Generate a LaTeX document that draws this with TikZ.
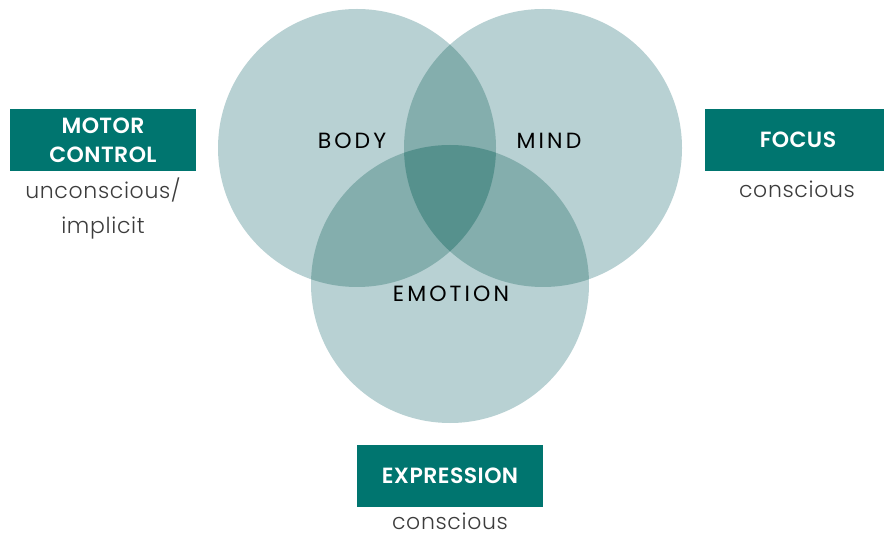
\documentclass[tikz,border=0pt]{standalone}
\usepackage{fontspec}
\setmainfont{Poppins}
\newfontfamily\spacedfont[LetterSpace=14]{Poppins}
\newfontfamily\lightfont[LetterSpace=3]{Poppins Light}
\newfontfamily\boxfont[LetterSpace=2]{Poppins SemiBold}
\usetikzlibrary{calc}

\definecolor{tagteal}{HTML}{00756F}
\definecolor{ringone}{HTML}{B8D1D3}
\definecolor{ringtwo}{HTML}{84AEAD}
\definecolor{ringthree}{HTML}{56918D}
\definecolor{softgrey}{HTML}{3C3C3C}

\tikzset{
  tagbox/.style={fill=tagteal, text=white, font=\boxfont\fontsize{22}{29}\selectfont, align=center,
    inner sep=0pt, minimum width=186pt, minimum height=62pt},
  tagnote/.style={text=softgrey, font=\lightfont\fontsize{22}{35}\selectfont, align=center, inner sep=1pt},
  ringlabel/.style={font=\spacedfont\fontsize{22}{26}\selectfont}
}

\begin{document}
\begin{tikzpicture}[x=1pt, y=-1pt]
  \useasboundingbox (0,0) rectangle (884,537);

  \coordinate (body)    at (357,148);
  \coordinate (mind)    at (543,148);
  \coordinate (emotion) at (450,284);

  \fill [ringone] (body) circle (139pt);
  \fill [ringone] (mind) circle (139pt);
  \fill [ringone] (emotion) circle (139pt);

  \begin{scope}
    \clip (body) circle (139pt);
    \fill [ringtwo] (mind) circle (139pt);
    \fill [ringtwo] (emotion) circle (139pt);
  \end{scope}
  \begin{scope}
    \clip (mind) circle (139pt);
    \fill [ringtwo] (emotion) circle (139pt);
  \end{scope}
  \begin{scope}
    \clip (body) circle (139pt);
    \clip (mind) circle (139pt);
    \fill [ringthree] (emotion) circle (139pt);
  \end{scope}

  \node [ringlabel] (bodylabel)    at (352,141) {BODY};
  \node [ringlabel] (mindlabel)    at (549,141) {MIND};
  \node [ringlabel] (emotionlabel) at (451,294) {EMOTION};

  \node [tagbox] (motor) at (103,140) {MOTOR\\CONTROL};
  \node [tagnote] (motornote) at (103,208) {unconscious/\\implicit};

  \node [tagbox] (focus) at (798,140) {FOCUS};
  \node [tagnote] (focusnote) at (797,189) {conscious};

  \node [tagbox] (expression) at (450,476) {EXPRESSION};
  \node [tagnote] (expressionnote) at (450,521) {conscious};
\end{tikzpicture}
\end{document}
